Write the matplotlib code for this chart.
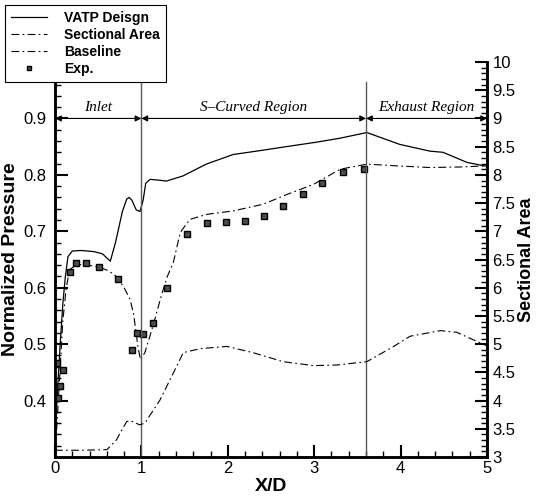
import matplotlib
matplotlib.use('Agg')
import matplotlib.pyplot as plt
from matplotlib.ticker import MultipleLocator, FixedLocator, FormatStrFormatter
from matplotlib.lines import Line2D

# values
vatp_x = [0.0, 0.03, 0.06, 0.09, 0.12, 0.15, 0.2, 0.3, 0.45, 0.55, 0.64, 0.70, 0.78, 0.83,
          0.857, 0.89, 0.94, 0.984, 1.02, 1.05, 1.10, 1.18, 1.29, 1.48, 1.75, 2.06, 2.33,
          2.72, 3.03, 3.30, 3.61, 3.99, 4.34, 4.49, 4.77, 5.0]
vatp_y = [0.33, 0.42, 0.50, 0.57, 0.62, 0.655, 0.665, 0.666, 0.664, 0.66, 0.647, 0.68,
          0.735, 0.757, 0.760, 0.755, 0.738, 0.735, 0.755, 0.785, 0.792, 0.791, 0.789,
          0.798, 0.819, 0.836, 0.842, 0.851, 0.858, 0.865, 0.875, 0.854, 0.842, 0.840,
          0.822, 0.815]

base_x = [0.0, 0.02, 0.05, 0.09, 0.13, 0.17, 0.25, 0.35, 0.52, 0.62, 0.71, 0.80, 0.87,
          0.91, 0.96, 0.99, 1.04, 1.12, 1.235, 1.30, 1.37, 1.45, 1.56, 1.755, 2.06, 2.41,
          2.68, 2.99, 3.30, 3.61, 3.95, 4.34, 4.7, 5.0]
base_y = [0.32, 0.35, 0.43, 0.54, 0.60, 0.632, 0.641, 0.641, 0.636, 0.63, 0.62, 0.60,
          0.579, 0.553, 0.496, 0.472, 0.485, 0.525, 0.588, 0.62, 0.645, 0.698, 0.721,
          0.730, 0.736, 0.748, 0.765, 0.783, 0.810, 0.819, 0.816, 0.813, 0.814, 0.816]

area_x = [0.0, 0.03, 0.3, 0.6, 0.71, 0.83, 0.88, 0.98, 1.04, 1.215, 1.37, 1.485, 1.68,
          1.99, 2.29, 2.64, 2.99, 3.26, 3.61, 3.92, 4.11, 4.46, 4.65, 4.88, 5.0]
area_y = [3.12, 3.12, 3.12, 3.13, 3.30, 3.63, 3.64, 3.57, 3.60, 4.01, 4.49, 4.85, 4.92,
          4.96, 4.85, 4.69, 4.62, 4.63, 4.69, 4.96, 5.14, 5.24, 5.21, 5.05, 4.97]

exp_x = [0.02, 0.04, 0.06, 0.09, 0.174, 0.243, 0.359, 0.513, 0.733, 0.887, 0.945, 1.015,
         1.13, 1.30, 1.53, 1.76, 1.98, 2.20, 2.42, 2.64, 2.87, 3.09, 3.33, 3.58]
exp_y = [0.467, 0.405, 0.425, 0.455, 0.627, 0.643, 0.643, 0.636, 0.616, 0.490, 0.520,
         0.518, 0.538, 0.600, 0.696, 0.714, 0.716, 0.719, 0.727, 0.745, 0.766, 0.786,
         0.805, 0.811]

regions = [(0.0, 1.0, 'Inlet'), (1.0, 3.6, 'S\u2013Curved Region'), (3.6, 5.0, 'Exhaust Region')]
left_ticks = [0.4, 0.5, 0.6, 0.7, 0.8, 0.9]

plt.rcParams['font.family'] = ['Liberation Sans', 'DejaVu Sans']

fig = plt.figure(figsize=(5.36, 4.96), dpi=100)
ax = fig.add_axes([0.1026, 0.0786, 0.806, 0.7964])
ax2 = ax.twinx()

dd = (7, 3, 1.5, 3)
ax.plot(vatp_x, vatp_y, color='black', lw=0.9)
ax.plot(base_x, base_y, color='black', lw=0.8, dashes=dd)
ax2.plot(area_x, area_y, color='black', lw=0.8, dashes=dd)
ax.plot(exp_x, exp_y, ls='none', marker='s', ms=4, mfc='0.3', mec='black', mew=1)

ax.set_xlim(0, 5)
ax.set_ylim(0.3, 1.0)
ax2.set_ylim(3, 10)

for xv in [1.0, 3.6]:
    ax.axvline(xv, ymax=0.95, color='0.35', lw=1)

for x0, x1, name in regions:
    ax.annotate('', xy=(x0, 0.9), xytext=(x1, 0.9),
                arrowprops=dict(arrowstyle='<|-|>', color='black', lw=0.8,
                                mutation_scale=9, shrinkA=0, shrinkB=0))
    xc = (x0 + x1) / 2
    ax.text(xc, 0.907, name, ha='center', va='bottom', fontsize=11,
            style='italic', family='Liberation Serif')

ax.xaxis.set_major_locator(MultipleLocator(1))
ax.xaxis.set_minor_locator(MultipleLocator(0.2))
ax.xaxis.set_major_formatter(FormatStrFormatter('%g'))
ax.yaxis.set_major_locator(FixedLocator(left_ticks))
ax.yaxis.set_minor_locator(MultipleLocator(0.02))
ax.yaxis.set_major_formatter(FormatStrFormatter('%g'))
ax2.yaxis.set_major_locator(MultipleLocator(0.5))
ax2.yaxis.set_minor_locator(MultipleLocator(0.1))
ax2.yaxis.set_major_formatter(FormatStrFormatter('%g'))

ax.tick_params(axis='both', which='major', direction='in', length=9, width=1.5,
               labelsize=12)
ax.tick_params(axis='y', which='major', pad=6)
ax.tick_params(axis='x', which='major', pad=3)
ax.tick_params(axis='both', which='minor', direction='in', length=4.5, width=1)
ax2.tick_params(axis='y', which='major', direction='in', length=9, width=1.5,
                labelsize=12, pad=4)
ax2.tick_params(axis='y', which='minor', direction='in', length=4.5, width=1)

for a in (ax, ax2):
    a.spines['top'].set_visible(False)
    for s in ('left', 'right', 'bottom'):
        a.spines[s].set_linewidth(1.8)

ax.set_xlabel('X/D', fontsize=14, fontweight='bold', labelpad=1)
ax.set_ylabel('Normalized Pressure', fontsize=14, fontweight='bold', labelpad=3)
ax2.set_ylabel('Sectional Area', fontsize=13, fontweight='bold', labelpad=2)

handles = [
    Line2D([], [], color='black', lw=0.9),
    Line2D([], [], color='black', lw=0.8, dashes=dd),
    Line2D([], [], color='black', lw=0.8, dashes=dd),
    Line2D([], [], ls='none', marker='s', ms=3.5, mfc='0.3', mec='black'),
]
labels = ['VATP Deisgn', 'Sectional Area', 'Baseline', 'Exp.']
leg = fig.legend(handles, labels, loc='upper left', bbox_to_anchor=(0.009, 0.99),
                 frameon=True, fancybox=False, framealpha=1, edgecolor='black',
                 prop={'weight': 'bold', 'size': 10}, handlelength=2.6,
                 labelspacing=0.2, borderpad=0.45, handletextpad=1.2, borderaxespad=0)
leg.get_frame().set_linewidth(0.8)
leg.set_zorder(10)

fig.savefig('out.png', dpi=100)
